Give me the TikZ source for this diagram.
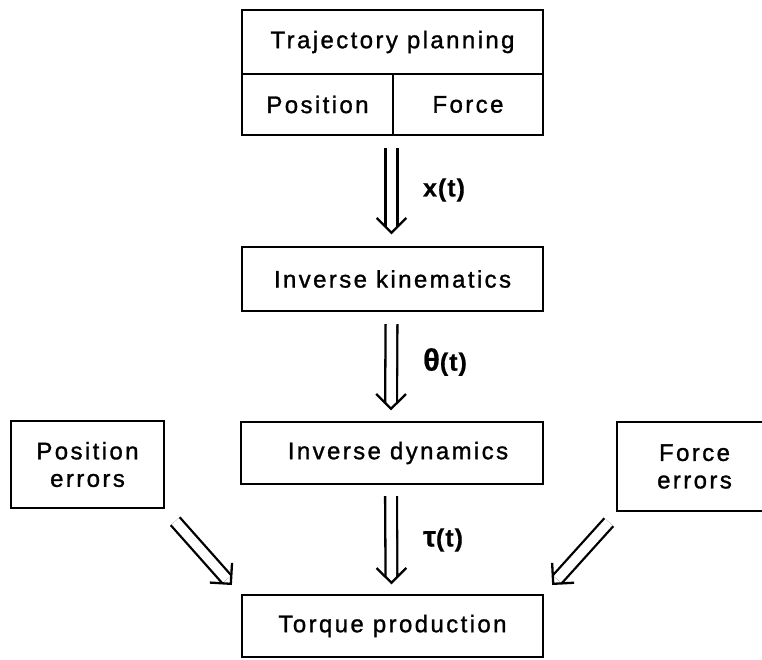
\documentclass[tikz,border=0pt]{standalone}
\usepackage{fontspec}
\setmainfont{Liberation Sans}[LetterSpace=10,FakeBold=1.2]
\newfontfamily\lblfont{Liberation Sans}[LetterSpace=4,FakeBold=0.6]
\usetikzlibrary{calc}
\tikzset{
  boxline/.style={line width=2.4pt},
  box/.style={draw, boxline, inner sep=0pt, align=center,
    font=\fontsize{24}{27.5}\selectfont},
  dbl/.style={draw, double, double distance=9.5pt, line width=2.3pt, shorten >=6pt},
  head/.style={draw, line width=2.3pt, line join=miter},
  lbl/.style={inner sep=0pt, font=\lblfont\fontsize{25}{28}\selectfont\bfseries},
}
\newcommand\dblarr[2]{%
  \draw[dbl] (#1) -- (#2);
  \draw[head] ($(#2)!21pt!45:(#1)$) -- (#2) -- ($(#2)!21pt!-45:(#1)$);}
\begin{document}
\begin{tikzpicture}[x=1pt,y=-1pt]
\useasboundingbox (0,0) rectangle (762,659);
\clip (0,0) rectangle (762,659);
% top box
\node[box, minimum width=301pt, minimum height=64pt] (traj) at (392.5,42) {Trajectory planning};
\node[box, minimum width=151pt, minimum height=61pt] (pos) at (317.5,104.5) {Position};
\node[box, minimum width=150pt, minimum height=61pt] (frc) at (468,104.5) {Force};
% chain
\node[box, minimum width=301pt, minimum height=64pt] (ik) at (392.5,279) {Inverse kinematics};
\node[box, minimum width=302pt, minimum height=62pt] (id) at (392,453) {\hspace*{12pt}Inverse dynamics};
\node[box, minimum width=301pt, minimum height=62pt] (tp) at (392.5,626) {Torque production};
% side boxes
\node[box, minimum width=153pt, minimum height=87pt] (pe) at (87.5,464.5) {Position\\errors};
\node[box, draw=none, minimum width=153pt, minimum height=87pt] (fe) at (694.5,466.5) {Force\\errors};
\draw[boxline] ([xshift=30pt]fe.north east) -| (fe.south west) -- ([xshift=30pt]fe.south east);
% arrow end points
\coordinate (a1s) at ($(traj.south)+(-1,73)$);
\coordinate (a1e) at ($(ik.north)+(-1,-13)$);
\coordinate (a2s) at ($(ik.south)+(-1,12)$);
\coordinate (a2e) at ($(id.north)+(-1,-12)$);
\coordinate (a3s) at ($(id.south)+(-1,11)$);
\coordinate (a3e) at ($(tp.north)+(-1,-11)$);
\coordinate (a4s) at ($(pe.south east)+(10,12)$);
\coordinate (a4e) at ($(tp.north west)+(-10,-10)$);
\coordinate (a5s) at ($(fe.south west)+(-8,11)$);
\coordinate (a5e) at ($(tp.north east)+(9,-10)$);
\dblarr{a1s}{a1e}
\dblarr{a2s}{a2e}
\dblarr{a3s}{a3e}
\dblarr{a4s}{a4e}
\dblarr{a5s}{a5e}
% labels
\node[lbl] (lx) at (444,190) {x(t)};
\node[lbl] (lth) at (445,362) {{\fontsize{31}{34}\selectfont θ}(t)};
\node[lbl] (lta) at (443,540) {{\fontsize{29}{32}\selectfont τ}(t)};
\end{tikzpicture}
\end{document}
